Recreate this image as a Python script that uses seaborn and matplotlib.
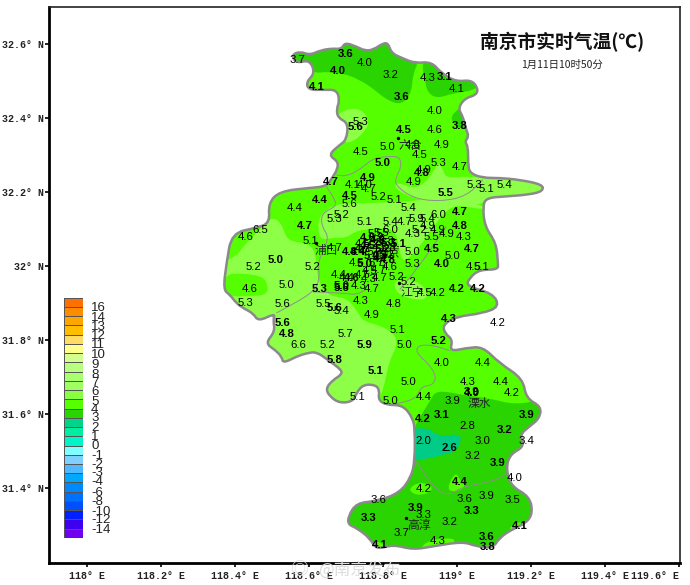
import numpy as np
import pandas as pd
import matplotlib
matplotlib.use("Agg")
import matplotlib.pyplot as plt
from matplotlib.colors import ListedColormap
from matplotlib.patches import PathPatch
from matplotlib.path import Path
import seaborn as sns

# ---------- DATA ----------
# county outline, lon / lat
outline_lon = [118.553, 118.575, 118.602, 118.629, 118.660, 118.688, 118.697, 118.728, 118.751, 118.773, 118.800, 118.814,
               118.823, 118.854, 118.886, 118.931, 118.958, 118.998, 119.039, 119.057, 119.052, 119.021, 119.003, 119.016,
               119.025, 119.032, 119.021, 119.030, 119.030, 119.034, 119.070, 119.115, 119.169, 119.232, 119.232, 119.196,
               119.133, 119.079, 119.070, 119.075, 119.106, 119.111, 119.111, 119.061, 119.034, 119.025, 119.097, 119.115,
               119.070, 118.998, 118.962, 118.967, 118.989, 118.980, 119.025, 119.070, 119.115, 119.178, 119.187, 119.228,
               119.223, 119.196, 119.169, 119.183, 119.142, 119.133, 119.147, 119.196, 119.205, 119.187, 119.147, 119.115,
               119.097, 119.052, 119.016, 118.935, 118.881, 118.827, 118.782, 118.764, 118.728, 118.706, 118.706, 118.728,
               118.782, 118.845, 118.877, 118.886, 118.886, 118.881, 118.854, 118.809, 118.787, 118.791, 118.778, 118.746,
               118.728, 118.719, 118.683, 118.656, 118.645, 118.665, 118.688, 118.688, 118.651, 118.620, 118.593, 118.566,
               118.530, 118.526, 118.508, 118.482, 118.508, 118.503, 118.508, 118.463, 118.449, 118.422, 118.404, 118.386,
               118.368, 118.377, 118.391, 118.458, 118.494, 118.490, 118.521, 118.602, 118.647, 118.665, 118.676, 118.679,
               118.652, 118.683, 118.701, 118.706, 118.679, 118.674, 118.683, 118.674, 118.643, 118.598, 118.593, 118.616,
               118.602, 118.566]
outline_lat = [32.570, 32.580, 32.570, 32.582, 32.588, 32.586, 32.604, 32.593, 32.582, 32.584, 32.602, 32.602,
               32.575, 32.561, 32.548, 32.552, 32.521, 32.498, 32.503, 32.480, 32.462, 32.453, 32.426, 32.404,
               32.368, 32.350, 32.336, 32.323, 32.278, 32.251, 32.238, 32.238, 32.233, 32.220, 32.202, 32.193,
               32.188, 32.184, 32.161, 32.107, 32.062, 32.008, 31.990, 31.990, 31.968, 31.945, 31.926, 31.890,
               31.872, 31.863, 31.841, 31.818, 31.800, 31.769, 31.778, 31.782, 31.737, 31.696, 31.642, 31.620,
               31.588, 31.566, 31.543, 31.512, 31.490, 31.449, 31.404, 31.377, 31.332, 31.305, 31.287, 31.265,
               31.237, 31.242, 31.255, 31.242, 31.233, 31.247, 31.233, 31.265, 31.292, 31.301, 31.323, 31.359,
               31.364, 31.386, 31.431, 31.476, 31.557, 31.588, 31.624, 31.624, 31.638, 31.665, 31.679, 31.679,
               31.656, 31.634, 31.629, 31.647, 31.669, 31.692, 31.706, 31.719, 31.746, 31.768, 31.764, 31.755,
               31.737, 31.755, 31.773, 31.791, 31.823, 31.854, 31.872, 31.850, 31.872, 31.886, 31.899, 31.922,
               31.936, 32.008, 32.089, 32.103, 32.116, 32.170, 32.202, 32.211, 32.215, 32.242, 32.260, 32.282,
               32.300, 32.327, 32.341, 32.386, 32.400, 32.422, 32.449, 32.476, 32.476, 32.476, 32.498, 32.521,
               32.557, 32.548]

# temperature bands: 3-4 (dark), 5-6 (light), 2-3 (teal), 4-5 spots (bright)
band_3_4 = [
    ([118.539, 118.692, 118.818, 118.899, 118.881, 118.877, 118.850, 118.809, 118.773, 118.737, 118.692, 118.647, 118.616, 118.575],
     [32.584, 32.620, 32.620, 32.557, 32.521, 32.467, 32.435, 32.449, 32.480, 32.503, 32.521, 32.525, 32.521, 32.539]),
    ([118.904, 118.913, 118.921, 118.948, 118.989, 119.057, 119.070, 118.980, 118.935],
     [32.552, 32.503, 32.467, 32.453, 32.467, 32.476, 32.521, 32.539, 32.566]),
    ([119.003, 118.980, 119.003, 119.039, 119.034],
     [32.426, 32.399, 32.372, 32.368, 32.431]),
    ([118.944, 119.016, 119.088, 119.160, 119.241, 119.259, 118.683, 118.683, 118.881, 118.881, 118.903, 118.926],
     [31.665, 31.651, 31.642, 31.624, 31.642, 31.215, 31.215, 31.350, 31.476, 31.557, 31.597, 31.633]),
]
band_5_6 = [
    ([118.679, 118.710, 118.746, 118.764, 118.746, 118.719, 118.692, 118.665],
     [32.413, 32.426, 32.422, 32.386, 32.359, 32.336, 32.332, 32.386]),
    ([118.832, 118.881, 118.908, 118.935, 118.949, 118.962, 118.971, 119.016, 119.070, 119.250, 119.250, 119.079, 119.066, 119.025, 118.975, 118.935, 118.881, 118.836],
     [32.228, 32.210, 32.219, 32.251, 32.282, 32.260, 32.238, 32.242, 32.238, 32.238, 32.193, 32.184, 32.165, 32.170, 32.179, 32.174, 32.183, 32.206]),
    ([118.359, 118.404, 118.422, 118.458, 118.498, 118.526, 118.541, 118.602, 118.620, 118.624, 118.656, 118.701, 118.728, 118.746, 118.800, 118.836, 118.836, 118.818, 118.805, 118.791, 118.755, 118.620, 118.440, 118.359],
     [32.008, 32.026, 32.053, 32.089, 32.134, 32.116, 32.066, 32.062, 32.026, 31.954, 31.918, 31.914, 31.882, 31.850, 31.837, 31.810, 31.778, 31.747, 31.684, 31.639, 31.603, 31.603, 31.738, 31.891]),
    ([118.629, 118.643, 118.684, 118.765, 118.859, 118.967, 119.070, 119.073, 118.994, 118.961, 118.940, 118.913, 118.872, 118.851, 118.840, 118.832, 118.811, 118.729, 118.702, 118.664, 118.629, 118.624],
     [32.130, 32.151, 32.170, 32.170, 32.173, 32.186, 32.165, 32.151, 32.167, 32.138, 32.111, 32.070, 32.022, 32.011, 32.070, 32.092, 32.103, 32.097, 32.076, 32.076, 32.070, 32.111]),
    ([118.827, 118.908, 118.926, 118.837],
     [31.968, 31.957, 31.903, 31.919]),
]
band_2_3 = [
    ([118.886, 118.926, 118.949, 119.016, 119.002, 118.971, 118.890, 118.872, 118.872],
     [31.561, 31.561, 31.539, 31.548, 31.503, 31.490, 31.474, 31.474, 31.561]),
]
band_4_5 = [
    ([118.372, 118.413, 118.476, 118.490, 118.485, 118.440, 118.359],
     [31.976, 31.981, 31.972, 31.945, 31.922, 31.918, 31.918]),
    ([118.971, 118.996, 119.007, 119.025, 118.998],
     [31.395, 31.444, 31.422, 31.404, 31.389]),
    ([118.867, 118.899, 118.935, 118.926, 118.890],
     [31.397, 31.417, 31.404, 31.386, 31.379]),
    ([118.895, 118.917, 118.962, 119.007, 118.935],
     [31.228, 31.255, 31.265, 31.260, 31.215]),
    ([119.137, 119.165, 119.196, 119.160],
     [31.289, 31.310, 31.301, 31.273]),
    ([118.768, 118.791, 118.809, 118.782],
     [31.251, 31.256, 31.238, 31.224]),
]

# thin district borders
borders = [
    ([118.674, 118.701, 118.737, 118.773, 118.809, 118.845, 118.850, 118.836, 118.832, 118.881, 118.953, 119.025, 119.070],
     [32.246, 32.242, 32.260, 32.291, 32.296, 32.296, 32.269, 32.242, 32.219, 32.183, 32.174, 32.188, 32.233]),
    ([118.647, 118.670, 118.674, 118.634, 118.634, 118.656, 118.624, 118.629, 118.611, 118.512],
     [32.215, 32.179, 32.161, 32.143, 32.107, 32.075, 32.017, 31.963, 31.927, 31.873]),
    ([118.611, 118.701, 118.728, 118.751],
     [31.930, 31.926, 31.922, 31.935]),
    ([118.845, 118.890, 118.935, 118.971],
     [31.936, 31.990, 32.053, 32.107]),
    ([118.980, 118.935, 118.894, 118.890, 118.926, 118.944, 118.935, 118.903, 118.890, 118.845, 118.818],
     [31.771, 31.786, 31.786, 31.764, 31.733, 31.701, 31.678, 31.674, 31.642, 31.629, 31.624]),
    ([118.886, 118.935, 118.975, 119.016, 119.097, 119.137],
     [31.476, 31.404, 31.377, 31.404, 31.417, 31.440]),
]

# stations drawn in the normal weight
reg_lon = [118.569, 118.749, 118.820, 118.920, 118.999, 118.940, 118.740, 118.940, 118.959, 118.813, 118.881, 118.740, 118.899,
           118.949, 118.910, 119.008, 118.719, 118.751, 118.760, 118.883, 119.048, 119.079, 119.128, 118.789, 118.830, 118.560,
           118.710, 118.869, 118.689, 118.670, 118.949, 118.890, 118.921, 118.751, 118.819, 118.859, 118.921, 118.469, 118.819,
           118.899, 118.949, 118.879, 118.779, 118.971, 119.019, 118.429, 118.930, 118.603, 118.670, 118.879, 118.989, 118.755,
           118.450, 118.609, 118.728, 118.782, 118.818, 118.879, 119.045, 119.066, 118.679, 118.836, 118.746, 118.791, 118.764,
           118.787, 118.760, 118.870, 118.539, 118.439, 118.735, 118.770, 118.913, 118.949, 118.782, 118.796, 118.809, 118.746,
           118.769, 118.791, 118.814, 118.800, 118.791, 118.809, 118.701,
           118.427, 118.529, 118.640, 118.689, 118.740, 118.830, 118.769, 119.109, 118.699, 118.840, 118.570, 118.650, 118.859,
           118.959, 119.069, 118.869, 119.029, 119.119, 119.149, 118.731, 118.819, 118.909, 118.989, 119.029, 118.909, 119.069,
           119.189, 119.043, 119.157, 118.909, 118.789, 119.019, 119.079, 119.149, 118.909, 118.979, 118.850, 118.949]
reg_lat = [32.557, 32.548, 32.516, 32.507, 32.478, 32.418, 32.388, 32.368, 32.327, 32.322, 32.327, 32.308, 32.299,
           32.278, 32.260, 32.268, 32.218, 32.218, 32.208, 32.226, 32.218, 32.207, 32.218, 32.187, 32.178, 32.157,
           32.168, 32.158, 32.138, 32.128, 32.138, 32.128, 32.128, 32.118, 32.118, 32.118, 32.107, 32.097, 32.097,
           32.097, 32.097, 32.087, 32.087, 32.087, 32.077, 32.077, 32.077, 32.067, 32.048, 32.037, 32.027, 32.037,
           31.997, 31.997, 32.008, 32.008, 31.997, 32.006, 31.997, 31.997, 31.976, 31.970, 31.976, 31.968, 31.985,
           31.988, 31.965, 31.957, 31.948, 31.938, 31.947, 31.937, 31.927, 31.927, 32.075, 32.089, 32.068, 32.058,
           32.058, 32.048, 32.048, 32.062, 32.026, 32.030, 31.968,
           31.899, 31.896, 31.896, 31.877, 31.906, 31.896, 31.867, 31.846, 31.816, 31.826, 31.787, 31.787, 31.787,
           31.737, 31.737, 31.687, 31.687, 31.687, 31.657, 31.647, 31.636, 31.647, 31.636, 31.567, 31.526, 31.526,
           31.526, 31.487, 31.427, 31.397, 31.367, 31.371, 31.377, 31.367, 31.327, 31.308, 31.278, 31.257]
reg_val = [3.7, 4.0, 3.2, 4.3, 4.1, 4.0, 5.3, 4.6, 4.9, 5.0, 4.8, 4.5, 4.5,
           5.3, 4.9, 4.7, 4.1, 4.0, 4.7, 4.9, 5.3, 5.1, 5.4, 5.2, 5.1, 4.4,
           5.6, 5.4, 5.2, 5.3, 6.0, 5.9, 5.4, 5.1, 5.4, 4.7, 4.9, 6.5, 6.0,
           5.2, 4.9, 4.3, 5.5, 4.9, 4.3, 4.6, 5.5, 5.1, 4.7, 5.0, 5.0, 4.5,
           5.2, 5.2, 4.5, 5.7, 4.6, 5.3, 4.5, 5.1, 4.4, 5.2, 4.5, 4.7, 4.5,
           4.7, 4.3, 5.2, 5.0, 4.6, 4.3, 4.7, 4.5, 4.2, 5.2, 5.5, 5.3, 4.5,
           5.2, 4.7, 5.8, 5.3, 4.3, 5.2, 4.4,
           5.3, 5.6, 5.5, 5.4, 4.3, 4.8, 4.9, 4.2, 5.7, 5.1, 6.6, 5.2, 5.0,
           4.0, 4.4, 5.0, 4.3, 4.4, 4.2, 5.1, 5.0, 4.4, 3.9, 2.8, 2.0, 3.0,
           3.4, 3.2, 4.0, 4.2, 3.6, 3.6, 3.9, 3.5, 3.3, 3.2, 3.7, 4.3]

# stations that come out heavier in the picture
bold_lon = [118.699, 118.679, 118.968, 118.620, 118.850, 118.726, 119.008, 118.856, 118.799, 118.905, 118.659, 118.760, 118.969,
            118.710, 118.629, 119.008, 118.589, 119.008, 118.841, 118.931, 119.039, 118.710, 118.733, 118.510, 118.751, 118.959,
            118.715, 118.629, 118.688, 118.688, 118.999, 119.057, 118.760, 118.814,
            118.760, 118.785, 118.800, 118.770, 118.795, 118.815, 118.745,
            118.670, 118.979, 118.529, 118.539, 118.750, 118.949, 118.670, 118.780, 119.039, 119.039, 118.909, 118.959, 119.189,
            119.129, 118.979, 119.109, 119.009, 118.889, 119.039, 118.760, 119.169, 119.079, 118.791, 119.084]
bold_lat = [32.572, 32.527, 32.510, 32.483, 32.458, 32.376, 32.378, 32.368, 32.277, 32.251, 32.228, 32.238, 32.198,
            32.189, 32.177, 32.147, 32.107, 32.107, 32.058, 32.047, 32.047, 32.037, 32.037, 32.017, 32.006, 32.006,
            31.968, 31.937, 31.945, 31.941, 31.937, 31.937, 32.075, 32.017,
            32.055, 32.070, 32.045, 32.028, 32.018, 32.062, 32.045,
            31.886, 31.857, 31.846, 31.816, 31.787, 31.796, 31.747, 31.716, 31.658, 31.656, 31.587, 31.597, 31.597,
            31.557, 31.507, 31.467, 31.417, 31.347, 31.337, 31.318, 31.297, 31.267, 31.247, 31.239]
bold_val = [3.6, 4.0, 3.1, 4.1, 3.6, 5.6, 3.8, 4.5, 5.0, 4.8, 4.7, 4.9, 5.5,
            4.5, 4.4, 4.7, 4.7, 4.8, 5.1, 4.5, 4.7, 4.8, 4.4, 5.0, 5.0, 4.0,
            4.6, 5.3, 5.0, 5.6, 4.2, 4.2, 4.6, 4.8,
            4.5, 4.9, 5.2, 5.0, 4.7, 5.3, 4.7,
            5.6, 4.3, 5.6, 4.8, 5.9, 5.2, 5.8, 5.1, 3.9, 4.0, 4.2, 3.1, 3.9,
            3.2, 2.6, 3.9, 4.4, 3.9, 3.3, 3.3, 4.1, 3.6, 4.1, 3.8]

# district names and seat dots
place_names = ["六合", "浦口", "南京", "江宁", "溧水", "高淳"]
place_lon = [118.874, 118.647, 118.814, 118.879, 119.061, 118.896]
place_lat = [32.325, 32.041, 32.033, 31.927, 31.629, 31.298]
seat_lon = [118.841, 118.620, 118.842, 118.863]
seat_lat = [32.345, 32.062, 31.954, 31.318]

# legend
legend_colors = ["#ff7000", "#ff8c00", "#ffa500", "#ffbe00", "#ffdc64", "#ffff8c", "#d4ff8c", "#b8ff80", "#a8ff70",
                 "#a0ff60", "#88ff40", "#55ff00", "#2ad400", "#00d488", "#00eea0", "#00f5c8", "#80ffff", "#80d0ff",
                 "#50b8ff", "#00a8ff", "#0088ff", "#0070ff", "#0050ff", "#0020ff", "#4000f0", "#7000f0"]
legend_labels = ["16", "14", "13", "12", "11", "10", "9", "8", "7", "6", "5", "4", "3", "2", "1", "0",
                 "-1", "-2", "-3", "-4", "-6", "-8", "-10", "-12", "-14"]
legend_label_lat = [31.886, 31.859, 31.836, 31.811, 31.785, 31.759, 31.732, 31.705, 31.683, 31.658, 31.633, 31.611, 31.588,
                    31.561, 31.537, 31.512, 31.487, 31.462, 31.440, 31.417, 31.386, 31.361, 31.336, 31.312, 31.286]

x_ticks = [118.0, 118.2, 118.4, 118.6, 118.8, 119.0, 119.2, 119.4, 119.6]
x_labels = ["118° E", "118.2° E", "118.4° E", "118.6° E", "118.8° E", "119° E", "119.2° E", "119.4° E", "119.6° E"]
y_ticks = [31.4, 31.6, 31.8, 32.0, 32.2, 32.4, 32.6]
y_labels = ["31.4° N", "31.6° N", "31.8° N", "32° N", "32.2° N", "32.4° N", "32.6° N"]

title = "南京市实时气温(℃)"
subtitle = "1月11日10时50分"
watermark = "@南京发布"

COL_4_5 = "#55ff00"
COL_5_6 = "#8cff46"
COL_3_4 = "#2ad400"
COL_2_3 = "#00cc88"
CJK = ["Noto Sans CJK SC", "DejaVu Sans"]


# closed quadratic curve through the traced corners, keeps the map edges round
def smooth_closed(lons, lats):
    pts = np.column_stack([lons, lats])
    mids = (pts + np.roll(pts, -1, axis=0)) / 2
    verts = [mids[-1]]
    codes = [Path.MOVETO]
    for p, m in zip(pts, mids):
        verts += [p, m]
        codes += [Path.CURVE3, Path.CURVE3]
    return Path(verts, codes)


def smooth_open(lons, lats):
    pts = np.column_stack([lons, lats])
    verts = [pts[0]]
    codes = [Path.MOVETO]
    for p, q in zip(pts[:-1], pts[1:]):
        verts += [p, (p + q) / 2]
        codes += [Path.CURVE3, Path.CURVE3]
    verts.append(pts[-1])
    codes.append(Path.LINETO)
    return Path(verts, codes)


# ---------- PLOT ----------
sns.set_theme(style="white")
plt.rcParams["font.family"] = ["Liberation Sans", "Noto Sans CJK SC", "DejaVu Sans"]

fig = plt.figure(figsize=(6.9, 5.85), dpi=100)
ax = fig.add_axes([49 / 690, 22 / 585, 631 / 690, 556 / 585])
ax.set_xlim(117.897, 119.603)
ax.set_ylim(31.197, 32.700)

# base fill and outline
outline_path = smooth_closed(outline_lon, outline_lat)
base = PathPatch(outline_path, facecolor=COL_4_5, edgecolor="none", zorder=1)
ax.add_patch(base)
layers = [(band_3_4, COL_3_4), (band_5_6, COL_5_6), (band_2_3, COL_2_3), (band_4_5, COL_4_5)]
for shapes, col in layers:
    for lons, lats in shapes:
        patch = PathPatch(smooth_closed(lons, lats), facecolor=col, edgecolor="none", zorder=2)
        ax.add_patch(patch)
        patch.set_clip_path(base)
for lons, lats in borders:
    ax.add_patch(PathPatch(smooth_open(lons, lats), facecolor="none", edgecolor="#8f8f8f", lw=0.7, zorder=3))
ax.add_patch(PathPatch(outline_path, facecolor="none", edgecolor="#8a8a8a", lw=1.8, zorder=3))

# station values
for lon, lat, val in zip(reg_lon, reg_lat, reg_val):
    ax.text(lon, lat, f"{val:.1f}", fontsize=8.2, color="black", ha="center", va="center", zorder=5)
for lon, lat, val in zip(bold_lon, bold_lat, bold_val):
    ax.text(lon, lat, f"{val:.1f}", fontsize=8.2, fontweight="bold", color="black", ha="center", va="center", zorder=5)

# district names
seats = pd.DataFrame({"lon": seat_lon, "lat": seat_lat})
sns.scatterplot(data=seats, x="lon", y="lat", s=6, color="black", linewidth=0, ax=ax, zorder=5)
for name, lon, lat in zip(place_names, place_lon, place_lat):
    ax.text(lon, lat, name, fontsize=8.5, family=CJK, color="#222222", ha="center", va="center", zorder=4)

# legend strip
cax = ax.inset_axes([117.938, 31.265, 0.0513, 0.649], transform=ax.transData)
codes = np.arange(len(legend_colors)).reshape(-1, 1)
sns.heatmap(codes, cmap=ListedColormap(legend_colors), cbar=False, linewidths=0.4, linecolor="#555555",
            xticklabels=False, yticklabels=False, ax=cax)
for lab, lat in zip(legend_labels, legend_label_lat):
    ax.text(118.011, lat, lab, fontsize=9.5, color="#222222", ha="left", va="center", zorder=5)

# title
ax.text(119.284, 32.605, title, fontsize=13.5, fontweight="bold", family=CJK, color="#111111", ha="center", va="center")
ax.text(119.284, 32.543, subtitle, fontsize=7.5, family=CJK, color="#222222", ha="center", va="center")

# axes
ax.set_xticks(x_ticks)
ax.set_xticklabels(x_labels, family="Liberation Mono", fontsize=7.2, fontweight="bold", color="#222222")
ax.set_yticks(y_ticks)
ax.set_yticklabels(y_labels, family="Liberation Mono", fontsize=7.2, fontweight="bold", color="#222222")
ax.get_xticklabels()[-1].set_ha("right")
ax.tick_params(axis="x", length=3, width=1.2, color="black", pad=2.5, bottom=True)
ax.tick_params(axis="y", length=3, width=1.2, color="black", pad=0.5, left=True)
for side in ["left", "bottom"]:
    ax.spines[side].set_linewidth(2)
    ax.spines[side].set_color("black")
for side in ["top", "right"]:
    ax.spines[side].set_linewidth(1.2)
    ax.spines[side].set_color("#222222")
ax.set_xlabel("")
ax.set_ylabel("")

# watermark over the lower axis
ax.text(118.735, 31.178, watermark, fontsize=12, family=CJK, color="#dcdcdc", ha="center", va="center",
        clip_on=False, zorder=6)
ax.text(118.572, 31.178, "◎", fontsize=13, family=CJK, color="#dcdcdc", ha="center", va="center",
        clip_on=False, zorder=6)

fig.savefig("out.png", dpi=100)
plt.close(fig)
